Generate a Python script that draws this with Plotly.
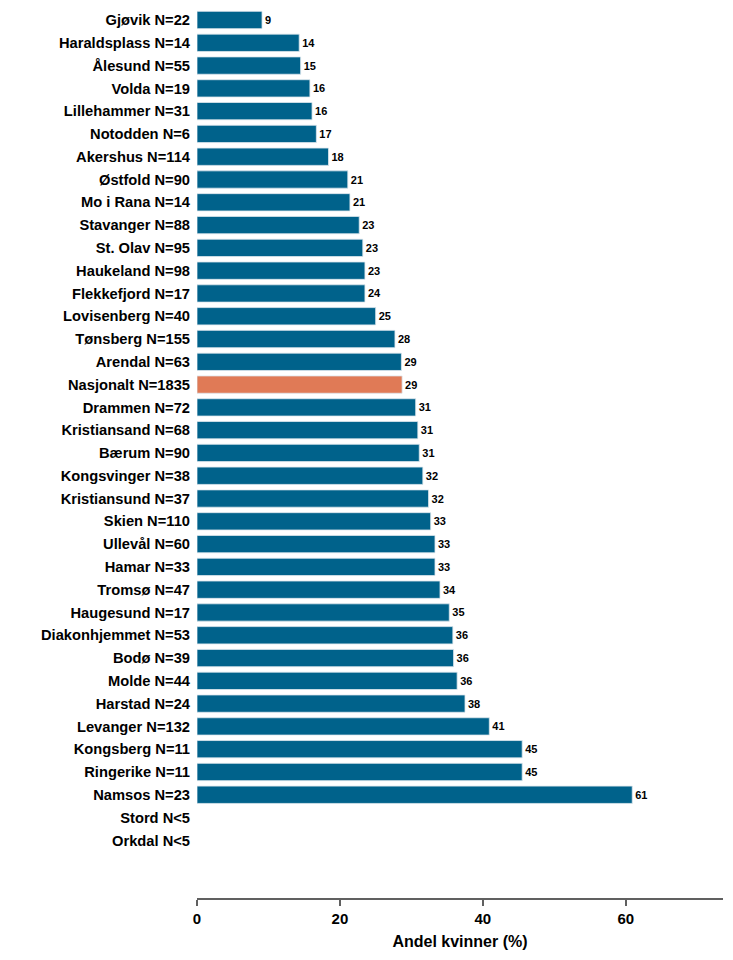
import plotly.graph_objects as go

categories = ["Gjøvik N=22", "Haraldsplass N=14", "Ålesund N=55", "Volda N=19", "Lillehammer N=31",
              "Notodden N=6", "Akershus N=114", "Østfold N=90", "Mo i Rana N=14", "Stavanger N=88",
              "St. Olav N=95", "Haukeland N=98", "Flekkefjord N=17", "Lovisenberg N=40", "Tønsberg N=155",
              "Arendal N=63", "Nasjonalt N=1835", "Drammen N=72", "Kristiansand N=68", "Bærum N=90",
              "Kongsvinger N=38", "Kristiansund N=37", "Skien N=110", "Ullevål N=60", "Hamar N=33",
              "Tromsø N=47", "Haugesund N=17", "Diakonhjemmet N=53", "Bodø N=39", "Molde N=44",
              "Harstad N=24", "Levanger N=132", "Kongsberg N=11", "Ringerike N=11", "Namsos N=23",
              "Stord N<5", "Orkdal N<5"]
values = [9.1, 14.3, 14.5, 15.8, 16.1, 16.7, 18.4, 21.1, 21.4, 22.7,
          23.2, 23.5, 23.5, 25.0, 27.7, 28.6, 28.7, 30.6, 30.9, 31.1,
          31.6, 32.4, 32.7, 33.3, 33.3, 34.0, 35.3, 35.8, 35.9, 36.4,
          37.5, 40.9, 45.5, 45.5, 60.9, None, None]
value_labels = ["9", "14", "15", "16", "16", "17", "18", "21", "21", "23",
                "23", "23", "24", "25", "28", "29", "29", "31", "31", "31",
                "32", "32", "33", "33", "33", "34", "35", "36", "36", "36",
                "38", "41", "45", "45", "61", "", ""]
national = "Nasjonalt N=1835"

colors = ["#E07A56" if c == national else "#00628B" for c in categories]

fig = go.Figure(go.Bar(
    x=values, y=categories, orientation="h",
    marker=dict(color=colors, line=dict(color="#DDE7EE", width=0.8)),
    text=value_labels, textposition="outside",
    textfont=dict(family="Liberation Sans, Arial", size=11, color="black", weight="bold"),
    cliponaxis=False, width=0.76,
))

fig.update_layout(
    width=733, height=960,
    margin=dict(l=189, r=18, t=0, b=70, autoexpand=False),
    paper_bgcolor="white", plot_bgcolor="white",
    showlegend=False,
    font=dict(family="Liberation Sans, Arial", color="black"),
)
fig.update_xaxes(
    range=[0, 73.6], tickvals=[0, 20, 40, 60], automargin=False,
    showgrid=False, zeroline=False,
    showline=True, linecolor="#606060", linewidth=2,
    ticks="outside", ticklen=6, tickcolor="#606060", tickwidth=1.5,
    tickfont=dict(size=15, family="Liberation Sans, Arial", weight="bold"),
    title=dict(text="Andel kvinner (%)", font=dict(size=16, family="Liberation Sans, Arial", weight="bold"), standoff=10),
)
fig.update_yaxes(
    type="category", categoryorder="array", categoryarray=categories,
    range=[38.53, -0.527], automargin=False,
    showgrid=False, zeroline=False, showline=False, ticks="",
    tickfont=dict(size=14.7, family="Liberation Sans, Arial", weight="bold"),
    ticklabelstandoff=6,
)

fig.write_html("out.html")
